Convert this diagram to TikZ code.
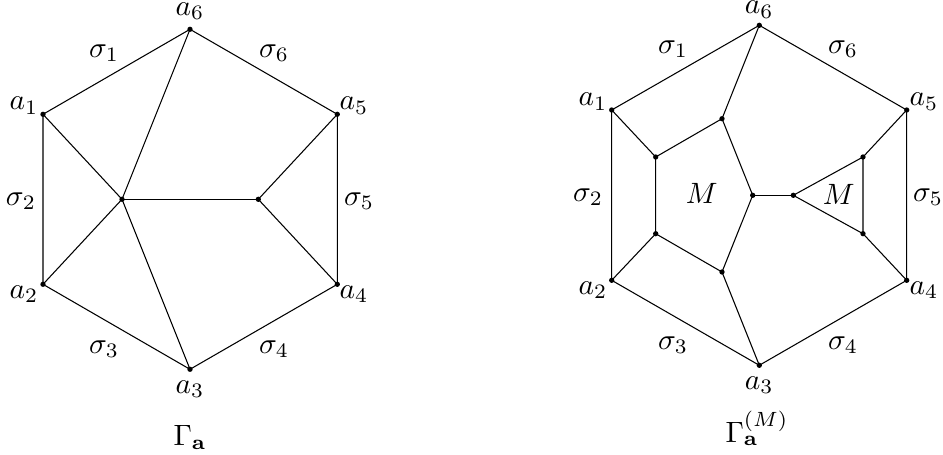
\documentclass[tikz,border=0pt]{standalone}
\begin{document}
\begin{tikzpicture}[x=0.34pt,y=-0.34pt,
  vtx/.style={circle,fill=black,inner sep=0pt,minimum size=1.8pt},
  lbl/.style={inner sep=0pt,anchor=base},
  edge/.style={line width=0.36pt}]
\useasboundingbox (0,0) rectangle (943,455);
% ---------- left graph ----------
\node[vtx] (a6) at (190,29.3) {};
\node[vtx] (a1) at (43,114.3) {};
\node[vtx] (a5) at (337.3,114.3) {};
\node[vtx] (a2) at (43,284.3) {};
\node[vtx] (a4) at (337.3,284.3) {};
\node[vtx] (a3) at (190,369.3) {};
\node[vtx] (c) at (122,199.3) {};
\node[vtx] (d) at (258.3,199.3) {};
\draw[edge] (a6.center) -- (a1.center) -- (a2.center) -- (a3.center) -- (a4.center) -- (a5.center) -- (a6.center);
\draw[edge] (a6.center) -- (c.center);
\draw[edge] (a1.center) -- (c.center);
\draw[edge] (a2.center) -- (c.center);
\draw[edge] (a3.center) -- (c.center);
\draw[edge] (c.center) -- (d.center);
\draw[edge] (d.center) -- (a5.center);
\draw[edge] (d.center) -- (a4.center);
\node[lbl] (la6) at (190,15.5) {$a_6$};
\node[lbl] (la1) at (24,110) {$a_1$};
\node[lbl] (la5) at (354,110) {$a_5$};
\node[lbl] (la2) at (24,298) {$a_2$};
\node[lbl] (la4) at (354,298) {$a_4$};
\node[lbl] (la3) at (190,393) {$a_3$};
\node[lbl] (s1) at (104,57) {$\sigma_1$};
\node[lbl] (s6) at (274,57) {$\sigma_6$};
\node[lbl] (s2) at (21,205) {$\sigma_2$};
\node[lbl] (s5) at (359,205) {$\sigma_5$};
\node[lbl] (s3) at (104,353) {$\sigma_3$};
\node[lbl] (s4) at (274,353) {$\sigma_4$};
\node[lbl] (g1) at (190,445) {$\Gamma_{\mathbf{a}}$};
% ---------- right graph ----------
\node[vtx] (b6) at (759.3,25.3) {};
\node[vtx] (b1) at (611.7,110) {};
\node[vtx] (b5) at (906.7,110) {};
\node[vtx] (b2) at (611.7,280.3) {};
\node[vtx] (b4) at (906.7,280.3) {};
\node[vtx] (b3) at (759.3,365.3) {};
\node[vtx] (p1) at (655.7,157) {};
\node[vtx] (p2) at (722,118.7) {};
\node[vtx] (p3) at (752.7,195.3) {};
\node[vtx] (p4) at (722,272) {};
\node[vtx] (p5) at (655.7,233.7) {};
\node[vtx] (t1) at (793.3,195.3) {};
\node[vtx] (t2) at (863,157) {};
\node[vtx] (t3) at (863,233.7) {};
\draw[edge] (b6.center) -- (b1.center) -- (b2.center) -- (b3.center) -- (b4.center) -- (b5.center) -- (b6.center);
\draw[edge] (p1.center) -- (p2.center) -- (p3.center) -- (p4.center) -- (p5.center) -- (p1.center);
\draw[edge] (t1.center) -- (t2.center) -- (t3.center) -- (t1.center);
\draw[edge] (b1.center) -- (p1.center);
\draw[edge] (b6.center) -- (p2.center);
\draw[edge] (b2.center) -- (p5.center);
\draw[edge] (b3.center) -- (p4.center);
\draw[edge] (p3.center) -- (t1.center);
\draw[edge] (t2.center) -- (b5.center);
\draw[edge] (t3.center) -- (b4.center);
\node[lbl] (m1) at (701.7,203) {$M$};
\node[lbl] (m2) at (838.7,204) {$M$};
\node[lbl] (lb6) at (759.3,14) {$a_6$};
\node[lbl] (lb1) at (593,106) {$a_1$};
\node[lbl] (lb5) at (924,106) {$a_5$};
\node[lbl] (lb2) at (593,294) {$a_2$};
\node[lbl] (lb4) at (924,294) {$a_4$};
\node[lbl] (lb3) at (759.3,389) {$a_3$};
\node[lbl] (r1) at (673,53) {$\sigma_1$};
\node[lbl] (r6) at (843,53) {$\sigma_6$};
\node[lbl] (r2) at (588,201) {$\sigma_2$};
\node[lbl] (r5) at (928,201) {$\sigma_5$};
\node[lbl] (r3) at (673,349) {$\sigma_3$};
\node[lbl] (r4) at (843,349) {$\sigma_4$};
\node[lbl] (g2) at (757,442) {$\Gamma_{\mathbf{a}}^{(M)}$};
\end{tikzpicture}
\end{document}
